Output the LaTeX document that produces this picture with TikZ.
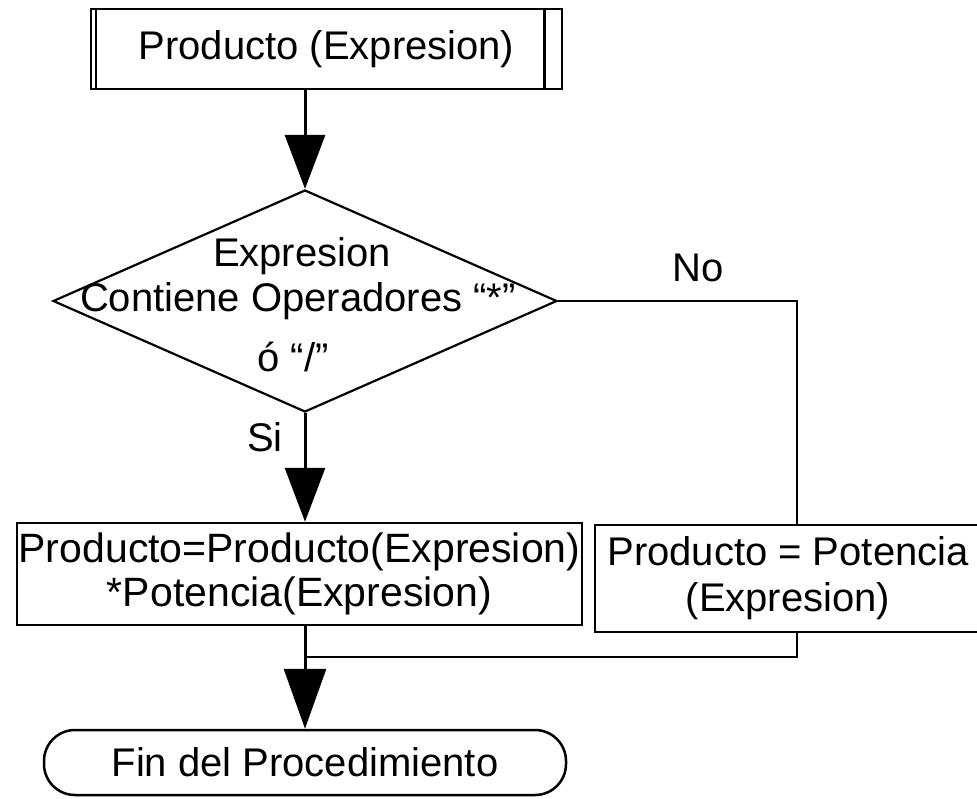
\documentclass[tikz,border=0pt]{standalone}
\usepackage{fontspec}
\setmainfont{Liberation Sans}
\usetikzlibrary{arrows.meta,shapes.geometric}
\begin{document}
\begin{tikzpicture}[x=1pt,y=-1pt,
  every node/.style={font=\fontsize{40}{45}\selectfont},
  box/.style={draw,line width=2.5pt,inner sep=0pt,align=center},
  flow/.style={line width=3pt,-{Triangle[length=54pt,width=40pt]}},
  bigflow/.style={line width=3pt,-{Triangle[length=60pt,width=42pt]}},
  link/.style={line width=2.2pt}]
\clip (0,0) rectangle (977,798);
\fill[white] (0,0) rectangle (977,798);

% axes of the vertical flow and of the "No" branch
\coordinate (ax) at (305,0);
\coordinate (nx) at (797,0);
\coordinate (jn) at (305,657);

% procedure header with side bars
\node[box,minimum width=471pt,minimum height=80pt] (tb) at (326.5,49) {Producto (Expresion)};
\draw[line width=2.5pt] ([xshift=6pt]tb.north west) -- ([xshift=6pt]tb.south west);
\draw[line width=2.5pt] ([xshift=-19pt]tb.north east) -- ([xshift=-19pt]tb.south east);

% decision
\node[draw,diamond,line width=2.2pt,minimum width=504pt,minimum height=222pt,inner sep=0pt] (d) at (305,301) {};
\node (t1) at (302,256) {Expresion};
\node (t2) at (298,301) {Contiene Operadores “*”};
\node (t3) at (293,357) {ó “/”};

\node (no) at (698,268) {No};
\node (si) at (265,437) {Si};

% process boxes
\node[box,minimum width=565pt,minimum height=102pt,font=\fontsize{41}{44}\selectfont] (lb) at (299.5,574)
  {Producto=Producto(Expresion)\\{*}Potencia(Expresion)};
\node[box,minimum width=386pt,minimum height=107pt,font=\fontsize{40}{46}\selectfont] (rb) at (788,578.5)
  {Producto = Potencia\\(Expresion)};

% terminator
\node[draw,line width=2.5pt,rounded corners=31pt,minimum width=522pt,minimum height=65pt,inner sep=0pt] (end) at (305,762.5)
  {Fin del Procedimiento};

% connectors
\draw[flow] (tb.south -| ax) -- (d.north);
\draw[flow] (d.south) -- (d.south |- lb.north);
\draw[link] (d.east) -| (rb.north -| nx);
\draw[link] (rb.south -| nx) |- (jn);
\draw[bigflow] (lb.south -| ax) -- (end.north);
\end{tikzpicture}
\end{document}
